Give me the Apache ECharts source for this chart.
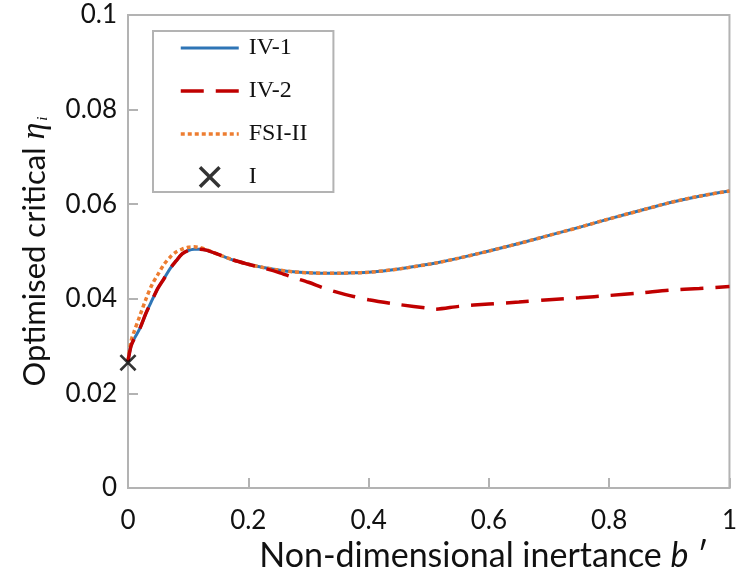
<!DOCTYPE html>
<html>
<head>
<meta charset="utf-8">
<script src="https://cdn.jsdelivr.net/npm/echarts@6/dist/echarts.min.js"></script>
<style>
  html, body { margin: 0; padding: 0; background: #fff; }
  #chart { width: 740px; height: 578px; }
</style>
</head>
<body>
<div id="chart"></div>
<script>
// Non-dimensional inertance b'
const inertance = [0, 0.005, 0.01, 0.02, 0.03, 0.04, 0.05, 0.06, 0.07, 0.08, 0.09, 0.10,
  0.11, 0.12, 0.13, 0.15, 0.175, 0.2, 0.225, 0.25, 0.275, 0.3, 0.325, 0.35, 0.375, 0.4,
  0.45, 0.5, 0.51, 0.55, 0.6, 0.65, 0.7, 0.75, 0.8, 0.85, 0.9, 0.95, 1.0];

// Optimised critical eta_i for each configuration
const etaIV1 = [0.0268, 0.0300, 0.0315, 0.0338, 0.0370, 0.0397, 0.0423, 0.0443, 0.0464, 0.0480,
  0.0495, 0.0502, 0.0505, 0.0505, 0.0503, 0.0494, 0.0482, 0.0473, 0.0466, 0.0461, 0.0457,
  0.0455, 0.0454, 0.0454, 0.0455, 0.0456, 0.0463, 0.0473, 0.0475, 0.0486, 0.0501, 0.0517,
  0.0534, 0.0551, 0.0569, 0.0586, 0.0603, 0.0617, 0.0628];

const etaIV2 = [0.0268, 0.0300, 0.0315, 0.0338, 0.0370, 0.0397, 0.0423, 0.0443, 0.0464, 0.0480,
  0.0495, 0.0502, 0.0505, 0.0505, 0.0503, 0.0494, 0.0482, 0.0473, 0.0465, 0.0456, 0.0445,
  0.0435, 0.0423, 0.0413, 0.0405, 0.0398, 0.0388, 0.0380, 0.0378, 0.0384, 0.0389, 0.0393,
  0.0398, 0.0402, 0.0407, 0.0412, 0.0418, 0.0422, 0.0426];

const etaFSI2 = [0.0268, 0.0310, 0.0330, 0.0365, 0.0400, 0.0430, 0.0452, 0.0473, 0.0488, 0.0499,
  0.0505, 0.0509, 0.0510, 0.0508, 0.0504, 0.0494, 0.0482, 0.0473, 0.0466, 0.0461, 0.0457,
  0.0455, 0.0454, 0.0454, 0.0455, 0.0456, 0.0463, 0.0473, 0.0475, 0.0486, 0.0501, 0.0517,
  0.0534, 0.0551, 0.0569, 0.0586, 0.0603, 0.0617, 0.0628];

// Configuration I (single point at b' = 0)
const pointI = [[0, 0.0265]];

const seriesNames = ['IV-1', 'IV-2', 'FSI-II', 'I'];
const xTicks = { min: 0, max: 1, step: 0.2 };
const yTicks = { min: 0, max: 0.1, step: 0.02 };

const pair = (ys) => inertance.map((b, i) => [b, ys[i]]);

const axisGray = '#b3b3b3';
const tickFont = 'Lato';

// filled cross marker
const crossPath = 'path://M0,1.1L1.1,0L5,3.9L8.9,0L10,1.1L6.1,5L10,8.9L8.9,10L5,6.1L1.1,10L0,8.9L3.9,5Z';

const styles = {
  'IV-1': { color: '#2E75B6', width: 3, type: 'solid' },
  'IV-2': { color: '#C00000', width: 3.5, type: [23, 12] },
  'FSI-II': { color: '#ED7D31', width: 3.5, type: [4, 3] }
};

// legend entries: plain line samples for the curves, the cross for point I
const legendItems = seriesNames.map((n) => styles[n]
  ? { name: n, itemStyle: { opacity: 0 }, lineStyle: { color: styles[n].color, width: styles[n].width, type: styles[n].type } }
  : { name: n });

const chart = echarts.init(document.getElementById('chart'), null, { renderer: 'canvas' });

chart.setOption({
  animation: false,
  backgroundColor: '#fff',
  grid: {
    left: 128, top: 15, right: 7, bottom: 90,
    show: true, borderColor: axisGray, borderWidth: 2
  },
  legend: {
    data: legendItems,
    orient: 'vertical',
    left: 153, top: 31,
    backgroundColor: '#fff',
    borderColor: axisGray, borderWidth: 2, borderRadius: 0,
    padding: [5, 26, 3, 26],
    itemWidth: 58, itemHeight: 22, itemGap: 19,
    textStyle: { fontFamily: 'Liberation Serif', fontSize: 24, lineHeight: 22, color: '#111', padding: [0, 0, 0, 5] }
  },
  xAxis: {
    type: 'value',
    min: xTicks.min, max: xTicks.max, interval: xTicks.step,
    axisLine: { lineStyle: { color: axisGray, width: 2 } },
    axisTick: { inside: true, length: 10, lineStyle: { color: axisGray, width: 2 } },
    splitLine: { show: false },
    axisLabel: { margin: 20, fontFamily: tickFont, fontSize: 26, color: '#111',
      formatter: (v) => String(+v.toFixed(2)) },
    name: 'Non-dimensional inertance {it|b} \u2032',
    nameLocation: 'middle', nameGap: 40,
    nameTextStyle: {
      fontFamily: tickFont, fontSize: 34, color: '#111', padding: [0, 0, 0, 110],
      rich: { it: { fontFamily: tickFont, fontStyle: 'italic', fontSize: 34, color: '#111' } }
    }
  },
  yAxis: {
    type: 'value',
    min: yTicks.min, max: yTicks.max, interval: yTicks.step,
    axisLine: { lineStyle: { color: axisGray, width: 2 } },
    axisTick: { inside: true, length: 10, lineStyle: { color: axisGray, width: 2 } },
    splitLine: { show: false },
    axisLabel: { margin: 11, fontFamily: tickFont, fontSize: 26, color: '#111',
      formatter: (v) => String(+v.toFixed(2)) },
    name: 'Optimised critical {eta|\u03b7}{sub|i}',
    nameLocation: 'middle', nameGap: 76,
    nameTextStyle: {
      fontFamily: tickFont, fontSize: 31, color: '#111',
      rich: {
        eta: { fontFamily: 'Liberation Serif', fontStyle: 'italic', fontSize: 34, color: '#111' },
        sub: { fontFamily: 'Liberation Serif', fontStyle: 'italic', fontSize: 15, color: '#111', padding: [16, 0, 0, 2] }
      }
    }
  },
  series: [
    {
      name: 'IV-1', type: 'line', data: pair(etaIV1), smooth: 0.3,
      symbol: 'none', z: 2,
      lineStyle: styles['IV-1'], itemStyle: { color: styles['IV-1'].color }
    },
    {
      name: 'FSI-II', type: 'line', data: pair(etaFSI2), smooth: 0.3,
      symbol: 'none', z: 3,
      lineStyle: styles['FSI-II'], itemStyle: { color: styles['FSI-II'].color }
    },
    {
      name: 'IV-2', type: 'line', data: pair(etaIV2), smooth: 0.3,
      symbol: 'none', z: 4,
      lineStyle: styles['IV-2'], itemStyle: { color: styles['IV-2'].color }
    },
    {
      name: 'I', type: 'scatter', data: pointI, z: 5,
      symbol: crossPath, symbolSize: 17,
      itemStyle: { color: '#000' }
    }
  ]
});
</script>
</body>
</html>
